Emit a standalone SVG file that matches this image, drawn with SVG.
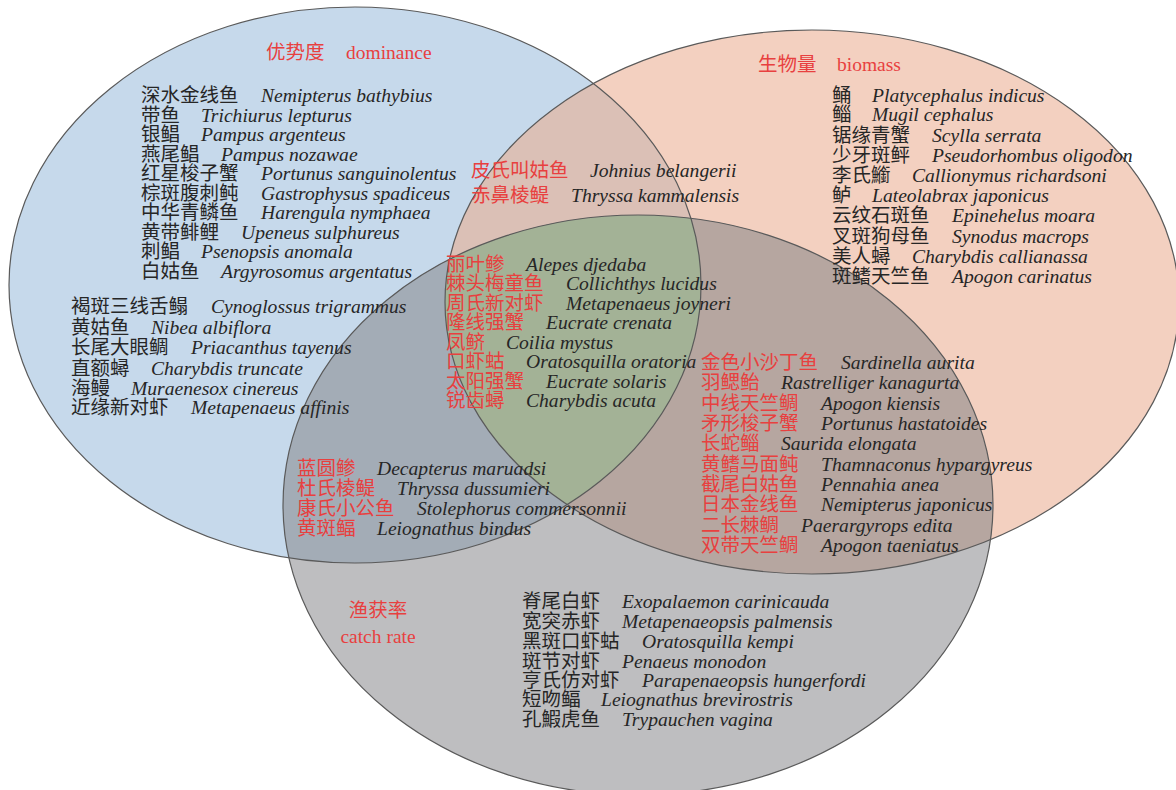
<svg xmlns="http://www.w3.org/2000/svg" width="1176" height="790" viewBox="0 0 1176 790">
<style>
.zh{font-family:"Noto Sans CJK SC","Noto Sans CJK JP",sans-serif;font-size:19.5px}
.la{font-family:"Liberation Serif",serif;font-style:italic;font-size:19.6px}
.hd{font-family:"Liberation Serif",serif;font-size:19.5px}
.k{fill:#262626}
.r{fill:#e8403f}
.ol{fill:none;stroke:#5a5a5a;stroke-width:1.2}
</style>
<defs>
<ellipse id="eB" cx="355" cy="285" rx="346" ry="278"/>
<ellipse id="eO" cx="812" cy="302" rx="367" ry="272"/>
<ellipse id="eG" cx="638" cy="505" rx="355" ry="290"/>
<clipPath id="cB"><use href="#eB"/></clipPath>
<clipPath id="cO"><use href="#eO"/></clipPath>
<clipPath id="cG"><use href="#eG"/></clipPath>
</defs>
<rect width="1176" height="790" fill="#ffffff"/>
<g id="sets">
<use href="#eB" fill="#c6d9eb"/>
<use href="#eO" fill="#f3d0c0"/>
<use href="#eG" fill="#bebec0"/>
<use href="#eO" fill="#dbc0b6" clip-path="url(#cB)"/>
<use href="#eG" fill="#a3acb6" clip-path="url(#cB)"/>
<use href="#eG" fill="#b6a6a0" clip-path="url(#cO)"/>
<g clip-path="url(#cB)"><use href="#eG" fill="#a3b296" clip-path="url(#cO)"/></g>
<use href="#eB" class="ol"/>
<use href="#eO" class="ol"/>
<use href="#eG" class="ol"/>
</g>
<g id="titles">
<text y="59"><tspan class="zh r" x="266">优势度</tspan><tspan class="hd r" x="346">dominance</tspan></text>
<text y="71"><tspan class="zh r" x="758">生物量</tspan><tspan class="hd r" x="837">biomass</tspan></text>
<text class="zh r" x="378" y="617" text-anchor="middle">渔获率</text>
<text class="hd r" x="378" y="643" text-anchor="middle">catch rate</text>
</g>
<g id="dominance-only">
<text y="102"><tspan class="zh k" x="141">深水金线鱼</tspan><tspan class="la k" x="261">Nemipterus bathybius</tspan></text>
<text y="121.5"><tspan class="zh k" x="141">带鱼</tspan><tspan class="la k" x="201">Trichiurus lepturus</tspan></text>
<text y="141"><tspan class="zh k" x="141">银鲳</tspan><tspan class="la k" x="201">Pampus argenteus</tspan></text>
<text y="160.5"><tspan class="zh k" x="141">燕尾鲳</tspan><tspan class="la k" x="221">Pampus nozawae</tspan></text>
<text y="180"><tspan class="zh k" x="141">红星梭子蟹</tspan><tspan class="la k" x="261">Portunus sanguinolentus</tspan></text>
<text y="199.5"><tspan class="zh k" x="141">棕斑腹刺鲀</tspan><tspan class="la k" x="261">Gastrophysus spadiceus</tspan></text>
<text y="219"><tspan class="zh k" x="141">中华青鳞鱼</tspan><tspan class="la k" x="261">Harengula nymphaea</tspan></text>
<text y="238.5"><tspan class="zh k" x="141">黄带鲱鲤</tspan><tspan class="la k" x="241">Upeneus sulphureus</tspan></text>
<text y="258"><tspan class="zh k" x="141">刺鲳</tspan><tspan class="la k" x="201">Psenopsis anomala</tspan></text>
<text y="277.5"><tspan class="zh k" x="141">白姑鱼</tspan><tspan class="la k" x="221">Argyrosomus argentatus</tspan></text>
<text y="313"><tspan class="zh k" x="71">褐斑三线舌鳎</tspan><tspan class="la k" x="211">Cynoglossus trigrammus</tspan></text>
<text y="334"><tspan class="zh k" x="71">黄姑鱼</tspan><tspan class="la k" x="151">Nibea albiflora</tspan></text>
<text y="353.5"><tspan class="zh k" x="71">长尾大眼鲷</tspan><tspan class="la k" x="191">Priacanthus tayenus</tspan></text>
<text y="375"><tspan class="zh k" x="71">直额蟳</tspan><tspan class="la k" x="151">Charybdis truncate</tspan></text>
<text y="395"><tspan class="zh k" x="71">海鳗</tspan><tspan class="la k" x="131">Muraenesox cinereus</tspan></text>
<text y="414"><tspan class="zh k" x="71">近缘新对虾</tspan><tspan class="la k" x="191">Metapenaeus affinis</tspan></text>
</g>
<g id="dominance-biomass">
<text y="176.5"><tspan class="zh r" x="471">皮氏叫姑鱼</tspan><tspan class="la k" x="590">Johnius belangerii</tspan></text>
<text y="201.5"><tspan class="zh r" x="471">赤鼻棱鳀</tspan><tspan class="la k" x="571">Thryssa kammalensis</tspan></text>
</g>
<g id="all-three">
<text y="271"><tspan class="zh r" x="446">丽叶鲹</tspan><tspan class="la k" x="526">Alepes djedaba</tspan></text>
<text y="290"><tspan class="zh r" x="446">棘头梅童鱼</tspan><tspan class="la k" x="566">Collichthys lucidus</tspan></text>
<text y="309.5"><tspan class="zh r" x="446">周氏新对虾</tspan><tspan class="la k" x="566">Metapenaeus joyneri</tspan></text>
<text y="328.5"><tspan class="zh r" x="446">隆线强蟹</tspan><tspan class="la k" x="546">Eucrate crenata</tspan></text>
<text y="348.5"><tspan class="zh r" x="446">凤鲚</tspan><tspan class="la k" x="506">Coilia mystus</tspan></text>
<text y="367.5"><tspan class="zh r" x="446">口虾蛄</tspan><tspan class="la k" x="526">Oratosquilla oratoria</tspan></text>
<text y="387.5"><tspan class="zh r" x="446">太阳强蟹</tspan><tspan class="la k" x="546">Eucrate solaris</tspan></text>
<text y="407"><tspan class="zh r" x="446">锐齿蟳</tspan><tspan class="la k" x="526">Charybdis acuta</tspan></text>
</g>
<g id="biomass-only">
<text y="102"><tspan class="zh k" x="832">鲬</tspan><tspan class="la k" x="872">Platycephalus indicus</tspan></text>
<text y="121"><tspan class="zh k" x="832">鲻</tspan><tspan class="la k" x="872">Mugil cephalus</tspan></text>
<text y="142"><tspan class="zh k" x="832">锯缘青蟹</tspan><tspan class="la k" x="932">Scylla serrata</tspan></text>
<text y="162"><tspan class="zh k" x="832">少牙斑鲆</tspan><tspan class="la k" x="932">Pseudorhombus oligodon</tspan></text>
<text y="182"><tspan class="zh k" x="832">李氏䲗</tspan><tspan class="la k" x="912">Callionymus richardsoni</tspan></text>
<text y="202"><tspan class="zh k" x="832">鲈</tspan><tspan class="la k" x="872">Lateolabrax japonicus</tspan></text>
<text y="222"><tspan class="zh k" x="832">云纹石斑鱼</tspan><tspan class="la k" x="952">Epinehelus moara</tspan></text>
<text y="242.5"><tspan class="zh k" x="832">叉斑狗母鱼</tspan><tspan class="la k" x="952">Synodus macrops</tspan></text>
<text y="262.5"><tspan class="zh k" x="832">美人蟳</tspan><tspan class="la k" x="912">Charybdis callianassa</tspan></text>
<text y="282.5"><tspan class="zh k" x="832">斑鳍天竺鱼</tspan><tspan class="la k" x="952">Apogon carinatus</tspan></text>
</g>
<g id="biomass-catch">
<text y="369"><tspan class="zh r" x="701">金色小沙丁鱼</tspan><tspan class="la k" x="841">Sardinella aurita</tspan></text>
<text y="389"><tspan class="zh r" x="701">羽鳃鲐</tspan><tspan class="la k" x="781">Rastrelliger kanagurta</tspan></text>
<text y="409.5"><tspan class="zh r" x="701">中线天竺鲷</tspan><tspan class="la k" x="821">Apogon kiensis</tspan></text>
<text y="429.5"><tspan class="zh r" x="701">矛形梭子蟹</tspan><tspan class="la k" x="821">Portunus hastatoides</tspan></text>
<text y="450"><tspan class="zh r" x="701">长蛇鲻</tspan><tspan class="la k" x="781">Saurida elongata</tspan></text>
<text y="470.5"><tspan class="zh r" x="701">黄鳍马面鲀</tspan><tspan class="la k" x="821">Thamnaconus hypargyreus</tspan></text>
<text y="491"><tspan class="zh r" x="701">截尾白姑鱼</tspan><tspan class="la k" x="821">Pennahia anea</tspan></text>
<text y="511"><tspan class="zh r" x="701">日本金线鱼</tspan><tspan class="la k" x="821">Nemipterus japonicus</tspan></text>
<text y="531.5"><tspan class="zh r" x="701">二长棘鲷</tspan><tspan class="la k" x="801">Paerargyrops edita</tspan></text>
<text y="551.5"><tspan class="zh r" x="701">双带天竺鲷</tspan><tspan class="la k" x="821">Apogon taeniatus</tspan></text>
</g>
<g id="dominance-catch">
<text y="475"><tspan class="zh r" x="297">蓝圆鲹</tspan><tspan class="la k" x="377">Decapterus maruadsi</tspan></text>
<text y="495"><tspan class="zh r" x="297">杜氏棱鳀</tspan><tspan class="la k" x="397">Thryssa dussumieri</tspan></text>
<text y="515"><tspan class="zh r" x="297">康氏小公鱼</tspan><tspan class="la k" x="417">Stolephorus commersonnii</tspan></text>
<text y="535"><tspan class="zh r" x="297">黄斑鲾</tspan><tspan class="la k" x="377">Leiognathus bindus</tspan></text>
</g>
<g id="catch-only">
<text y="608"><tspan class="zh k" x="522">脊尾白虾</tspan><tspan class="la k" x="622">Exopalaemon carinicauda</tspan></text>
<text y="628"><tspan class="zh k" x="522">宽突赤虾</tspan><tspan class="la k" x="622">Metapenaeopsis palmensis</tspan></text>
<text y="648"><tspan class="zh k" x="522">黑斑口虾蛄</tspan><tspan class="la k" x="642">Oratosquilla kempi</tspan></text>
<text y="667.5"><tspan class="zh k" x="522">斑节对虾</tspan><tspan class="la k" x="622">Penaeus monodon</tspan></text>
<text y="687"><tspan class="zh k" x="522">亨氏仿对虾</tspan><tspan class="la k" x="642">Parapenaeopsis hungerfordi</tspan></text>
<text y="706"><tspan class="zh k" x="522">短吻鲾</tspan><tspan class="la k" x="601">Leiognathus brevirostris</tspan></text>
<text y="726"><tspan class="zh k" x="522">孔鰕虎鱼</tspan><tspan class="la k" x="622">Trypauchen vagina</tspan></text>
</g>
</svg>
